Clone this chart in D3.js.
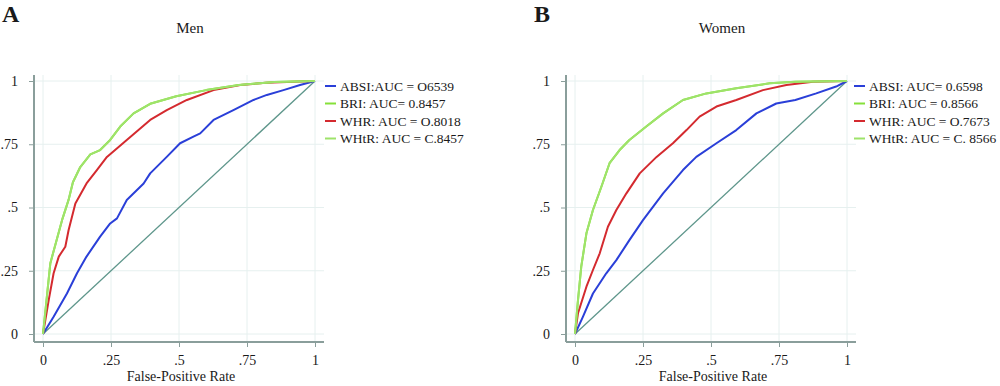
<!DOCTYPE html>
<html>
<head>
<meta charset="utf-8">
<script src="https://cdn.jsdelivr.net/npm/d3@7"></script>
<style>
  body { margin: 0; background: #fff; }
  text { font-family: "Liberation Serif", "DejaVu Serif", serif; fill: #1a1a1a; }
</style>
</head>
<body>
<div class="graph"></div>
<script>
// values: [false-positive rate, sensitivity]
const menABSI = [[0,0],[0.039,0.068],[0.088,0.16],[0.125,0.24],[0.16,0.306],[0.21,0.385],[0.247,0.437],[0.272,0.457],[0.308,0.53],[0.37,0.595],[0.394,0.635],[0.455,0.70],[0.504,0.754],[0.553,0.78],[0.578,0.793],[0.627,0.846],[0.70,0.885],[0.774,0.925],[0.823,0.945],[0.884,0.964],[0.945,0.984],[1,1]];
const menBRI = [[0,0],[0.027,0.28],[0.07,0.45],[0.094,0.53],[0.11,0.6],[0.137,0.66],[0.174,0.71],[0.21,0.727],[0.247,0.767],[0.284,0.82],[0.333,0.872],[0.394,0.91],[0.49,0.94],[0.60,0.964],[0.72,0.984],[0.85,0.996],[1,1]];
const menWHR = [[0,0],[0.021,0.134],[0.039,0.24],[0.058,0.306],[0.082,0.345],[0.094,0.41],[0.119,0.516],[0.16,0.595],[0.198,0.648],[0.235,0.70],[0.308,0.767],[0.394,0.846],[0.455,0.885],[0.529,0.925],[0.627,0.964],[0.725,0.984],[0.82,0.993],[1,1]];
const menWHtR = menBRI;

const womenABSI = [[0,0],[0.029,0.068],[0.066,0.16],[0.115,0.24],[0.152,0.292],[0.20,0.371],[0.25,0.45],[0.324,0.556],[0.397,0.648],[0.446,0.70],[0.52,0.754],[0.593,0.806],[0.667,0.872],[0.74,0.911],[0.81,0.925],[0.887,0.951],[0.96,0.978],[1,1]];
const womenBRI = [[0,0],[0.011,0.134],[0.023,0.266],[0.042,0.398],[0.066,0.49],[0.097,0.582],[0.127,0.675],[0.164,0.727],[0.20,0.767],[0.262,0.82],[0.324,0.872],[0.397,0.925],[0.483,0.951],[0.593,0.971],[0.716,0.991],[0.81,0.997],[1,1]];
const womenWHR = [[0,0],[0.011,0.082],[0.042,0.187],[0.066,0.253],[0.091,0.319],[0.121,0.424],[0.152,0.49],[0.189,0.556],[0.238,0.635],[0.30,0.70],[0.36,0.754],[0.41,0.806],[0.458,0.859],[0.52,0.899],[0.593,0.925],[0.691,0.964],[0.777,0.984],[0.875,0.997],[1,1]];
const womenWHtR = womenBRI;

const menLabels = ["ABSI:AUC = O6539", "BRI: AUC= 0.8457", "WHR: AUC = O.8018", "WHtR: AUC = C.8457"];
const womenLabels = ["ABSI: AUC= 0.6598", "BRI: AUC = 0.8566", "WHR: AUC = O.7673", "WHtR: AUC = C. 8566"];

const tickValues = [0, 0.25, 0.5, 0.75, 1];
const tickLabels = ["0", ".25", ".5", ".75", "1"];
const seriesColors = ["#2a3fd8", "#86e03a", "#d42a2f", "#9ee36a"];

const svg = d3.select(".graph").append("svg")
  .attr("width", 1000)
  .attr("height", 386);

function drawPanel(opts){
  const g = svg.append("g").attr("transform", "translate(" + opts.left + ",0)");
  const x = d3.scaleLinear().domain([0, 1]).range([43, 315]);
  const y = d3.scaleLinear().domain([0, 1]).range([334, 81]);

  g.append("text")
    .attr("x", 2).attr("y", 22)
    .style("font-size", "24px").style("font-weight", "bold")
    .text(opts.letter);

  g.append("text")
    .attr("x", 190).attr("y", 33)
    .attr("text-anchor", "middle")
    .style("font-size", "15px")
    .text(opts.title);

  // grid
  g.selectAll(".vgrid").data(tickValues).enter().append("line")
    .attr("x1", d => x(d)).attr("x2", d => x(d))
    .attr("y1", 75).attr("y2", 342)
    .style("stroke", "#e6f0ef").style("stroke-width", 1);
  g.selectAll(".hgrid").data(tickValues).enter().append("line")
    .attr("x1", 34).attr("x2", 324)
    .attr("y1", d => y(d)).attr("y2", d => y(d))
    .style("stroke", "#e6f0ef").style("stroke-width", 1);

  // axes
  const xAxis = d3.axisBottom(x).tickValues(tickValues)
    .tickFormat((d, i) => tickLabels[i]).tickSize(5).tickSizeOuter(0);
  const yAxis = d3.axisLeft(y).tickValues(tickValues)
    .tickFormat((d, i) => tickLabels[i]).tickSize(5).tickSizeOuter(0);

  const gx = g.append("g").attr("transform", "translate(0,342)").call(xAxis);
  gx.select(".domain").attr("d", "M34,0H324");
  const gy = g.append("g").attr("transform", "translate(34,0)").call(yAxis);
  gy.select(".domain").attr("d", "M0,75V342");
  [gx, gy].forEach(a => {
    a.select(".domain").style("stroke", "#8a9e9b").style("stroke-width", 2);
    a.selectAll(".tick line").style("stroke", "#8a9e9b");
    a.selectAll(".tick text").style("font-size", "14px")
      .style("font-family", "'Liberation Serif', serif").style("fill", "#1a1a1a");
  });
  gx.selectAll(".tick text").attr("dy", "1.05em");
  gy.selectAll(".tick text").attr("x", -16);

  g.append("text")
    .attr("x", 181).attr("y", 381)
    .attr("text-anchor", "middle")
    .style("font-size", "14px")
    .text("False-Positive Rate");

  const line = d3.line().x(d => x(d[0])).y(d => y(d[1]));

  // reference line
  g.append("path").datum([[0,0],[1,1]])
    .attr("d", line).style("fill", "none")
    .style("stroke", "#5e968b").style("stroke-width", 1.3);

  const drawOrder = [0, 2, 1, 3];
  drawOrder.forEach(i => {
    g.append("path").datum(opts.series[i])
      .attr("d", line).style("fill", "none")
      .style("stroke", seriesColors[i]).style("stroke-width", 2)
      .style("stroke-linejoin", "round");
  });

  // legend
  const leg = g.selectAll(".leg").data(opts.labels).enter().append("g")
    .attr("transform", (d, i) => "translate(" + (opts.legX) + "," + (86 + i * 17.5) + ")");
  leg.append("line").attr("x1", 0).attr("x2", 11)
    .style("stroke", (d, i) => seriesColors[i]).style("stroke-width", 2);
  leg.append("text").attr("x", 15).attr("dy", "0.35em")
    .style("font-size", "13.5px")
    .text(d => d);
}

drawPanel({left: 0, letter: "A", title: "Men", legX: 325,
  series: [menABSI, menBRI, menWHR, menWHtR], labels: menLabels});
drawPanel({left: 532, letter: "B", title: "Women", legX: 322,
  series: [womenABSI, womenBRI, womenWHR, womenWHtR], labels: womenLabels});
</script>
</body>
</html>
